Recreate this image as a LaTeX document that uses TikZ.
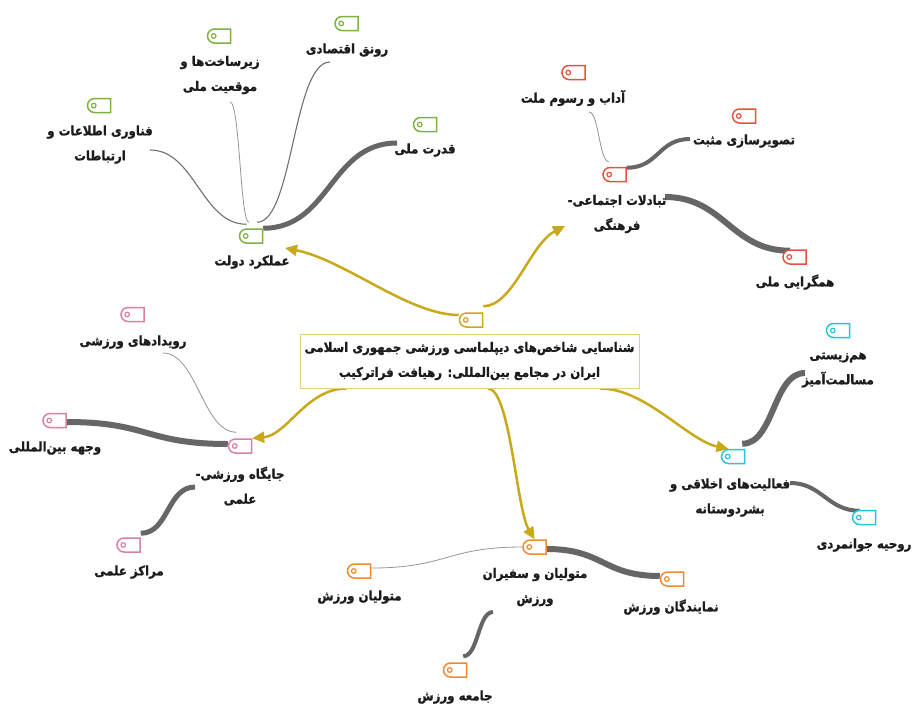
\documentclass[tikz,border=0pt]{standalone}
\usepackage{fontspec}
\newfontfamily\fa[Script=Arabic, FakeBold=1.2, FakeStretch=0.89]{DejaVu Sans Bold}
\TeXXeTstate=1
\usetikzlibrary{shapes.misc,arrows.meta,backgrounds}
\definecolor{cyel}{RGB}{201,168,26}
\definecolor{cbox}{RGB}{228,208,120}
\definecolor{cgreen}{RGB}{124,179,66}
\definecolor{cred}{RGB}{229,83,64}
\definecolor{cpink}{RGB}{217,128,165}
\definecolor{corange}{RGB}{240,137,48}
\definecolor{ccyan}{RGB}{38,198,218}
\definecolor{cthick}{RGB}{102,102,102}
\definecolor{cthin}{RGB}{112,112,112}
\definecolor{clight}{RGB}{150,150,150}
\tikzset{
  tagn/.style={rounded rectangle, rounded rectangle right arc=none, minimum width=23pt,
    minimum height=14pt, inner sep=0pt, draw=#1, line width=1.5pt, fill=white},
  lbl/.style={font=\fa\fontsize{13.2}{25}\selectfont, align=center, inner sep=0pt, text={rgb,255:red,28;green,28;blue,28}},
  rootbox/.style={lbl, draw=cbox, line width=1pt, fill=white, minimum width=339pt, minimum height=54pt},
  yarrow/.style={draw=cyel, line width=2.5pt, -{Triangle[length=12pt,width=11pt]}},
  thickA/.style={draw=cthick, line width=5pt},
  thickB/.style={draw=cthick, line width=4pt},
  thickC/.style={draw=cthick, line width=6pt},
  thinA/.style={draw=cthin, line width=1.1pt},
  thinB/.style={draw=clight, line width=0.8pt}
}
\newcommand\Tg[4]{\node[tagn=#4] (#1) at (#2,#3) {};
  \draw[#4, line width=1.2pt] ([xshift=7pt]#1.west) circle (2.3pt);}
\begin{document}
\begin{tikzpicture}[x=1pt,y=-1pt]
\useasboundingbox (0,0) rectangle (912,705);
% root
\node[rootbox] (root) at (469.5,361) {\beginR شناسایی شاخص‌های دیپلماسی ورزشی جمهوری اسلامی\endR\\\beginR ایران در مجامع بین‌المللی: رهیافت فراترکیب\endR};
\Tg{tR}{471}{320}{cyel}
% labels
\node[lbl] (lA) at (252,262) {\beginR عملکرد دولت\endR};
\node[lbl] (lA1) at (100,144.5) {\beginR فناوری اطلاعات و\endR\\\beginR ارتباطات\endR};
\node[lbl] (lA2) at (220,75) {\beginR زیرساخت‌ها و\endR\\\beginR موقعیت ملی\endR};
\node[lbl] (lA3) at (347,50) {\beginR رونق اقتصادی\endR};
\node[lbl] (lA4) at (425,150) {\beginR قدرت ملی\endR};
\node[lbl] (lB) at (617,214) {\beginR تبادلات اجتماعی-\endR\\\beginR فرهنگی\endR};
\node[lbl] (lB1) at (573,98) {\beginR آداب و رسوم ملت\endR};
\node[lbl] (lB2) at (744,141) {\beginR تصویرسازی مثبت\endR};
\node[lbl] (lB3) at (795,282) {\beginR همگرایی ملی\endR};
\node[lbl] (lC) at (240,486) {\beginR جایگاه ورزشی-\endR\\\beginR علمی\endR};
\node[lbl] (lC1) at (133,342) {\beginR رویدادهای ورزشی\endR};
\node[lbl] (lC2) at (55,448) {\beginR وجهه بین‌المللی\endR};
\node[lbl] (lC3) at (129,572) {\beginR مراکز علمی\endR};
\node[lbl] (lD) at (535,587) {\beginR متولیان و سفیران\endR\\\beginR ورزش\endR};
\node[lbl] (lD1) at (359.5,597) {\beginR متولیان ورزش\endR};
\node[lbl] (lD2) at (455,697) {\beginR جامعه ورزش\endR};
\node[lbl] (lD3) at (671,607) {\beginR نمایندگان ورزش\endR};
\node[lbl] (lE) at (730,497.5) {\beginR فعالیت‌های اخلاقی و\endR\\\beginR بشردوستانه\endR};
\node[lbl] (lE1) at (838,370) {\beginR هم‌زیستی\endR\\\beginR مسالمت‌آمیز\endR};
\node[lbl] (lE2) at (864,545) {\beginR روحیه جوانمردی\endR};
% tags
\Tg{tA}{251}{236}{cgreen}
\Tg{tA1}{99}{105.5}{cgreen}
\Tg{tA2}{219}{36}{cgreen}
\Tg{tA3}{346.5}{23.5}{cgreen}
\Tg{tA4}{425}{124.5}{cgreen}
\Tg{tB}{614.5}{174.5}{cred}
\Tg{tB1}{573.5}{72.5}{cred}
\Tg{tB2}{744}{116}{cred}
\Tg{tB3}{794.5}{257}{cred}
\Tg{tC}{240}{446}{cpink}
\Tg{tC1}{132.5}{314.5}{cpink}
\Tg{tC2}{54.5}{420.5}{cpink}
\Tg{tC3}{128.5}{545}{cpink}
\Tg{tD}{534.5}{547}{corange}
\Tg{tD1}{359}{571}{corange}
\Tg{tD2}{455}{670}{corange}
\Tg{tD3}{672}{579}{corange}
\Tg{tE}{733}{456.5}{ccyan}
\Tg{tE1}{838}{330.5}{ccyan}
\Tg{tE2}{864}{517.5}{ccyan}
% connectors
\begin{scope}[on background layer]
\fill[white] (0,0) rectangle (912,705);
\draw[thickA] (tA.north east) .. controls +(67,0) and +(-67,0) .. ([shift={(-28,-7)}]lA4.center);
\draw[thinA] ([shift={(6,-6)}]tA.north) .. controls +(36,0) and +(-37,0) .. ([shift={(-17,12)}]lA3.center);
\draw[thinB] ([shift={(-2,-6)}]tA.north) .. controls +(-9,0) and +(10,0) .. ([shift={(10,27)}]lA2.center);
\draw[thinA] ([shift={(0,-4)}]tA.north west) .. controls +(-45,0) and +(45,0) .. ([shift={(50,5.5)}]lA1.center);
\draw[thickB] ([shift={(0,1)}]tB.north east) .. controls +(32,0) and +(-32,0) .. ([shift={(-54,-2)}]lB2.center);
\draw[thickC] ([shift={(48,-17)}]lB.center) .. controls +(59,0) and +(-59,0) .. ([shift={(0,1.5)}]tB3.north west);
\draw[thinB] ([shift={(-5.5,-5)}]tB.north) .. controls +(-10,0) and +(10,0) .. ([shift={(16,14)}]lB1.center);
\draw[thickC] ([shift={(0,-2)}]tC.west) .. controls +(-82,0) and +(82,0) .. ([shift={(0,1.5)}]tC2.east);
\draw[thinB] ([shift={(1,-6)}]tC.north west) .. controls +(-34,0) and +(34,0) .. ([shift={(30,11)}]lC1.center);
\draw[thickA] ([shift={(-45,1)}]lC.center) .. controls +(-28,0) and +(28,0) .. ([shift={(0,-4)}]tC3.north east);
\draw[thickC] ([shift={(0,2)}]tD.east) .. controls +(57,0) and +(-57,0) .. ([shift={(0,-3)}]tD3.west);
\draw[thinB] (tD.west) .. controls +(-76,0) and +(76,0) .. ([shift={(0,-3)}]tD1.east);
\draw[thickB] ([shift={(-42,25)}]lD.center) .. controls +(-15,0) and +(15,0) .. ([shift={(-4,-6)}]tD2.north east);
\draw[thickC] ([shift={(-3,-5)}]tE.north east) .. controls +(32,0) and +(-32,0) .. ([shift={(-33,3)}]lE1.center);
\draw[thickB] ([shift={(60,-14.5)}]lE.center) .. controls +(32,0) and +(-32,0) .. ([shift={(0,1)}]tE2.north west);
% yellow
\draw[yarrow] ([shift={(0,-5)}]tR.west) .. controls +(-50,0) and +(60,12) .. ([shift={(33,-14)}]lA.center);
\draw[yarrow] ([shift={(0,-6)}]tR.north east) .. controls +(30,0) and +(-35,18) .. ([shift={(-52,12)}]lB.center);
\draw[yarrow] ([shift={(47,0)}]root.south west) .. controls +(-40,0) and +(35,-3) .. (tC.north east);
\draw[yarrow] ([shift={(18.5,0)}]root.south) .. controls +(22,0) and +(-18,-30) .. (tD.north);
\draw[yarrow] ([shift={(-39,0)}]root.south east) .. controls +(45,0) and +(-40,-8) .. (tE.north west);
\end{scope}
\end{tikzpicture}
\end{document}
